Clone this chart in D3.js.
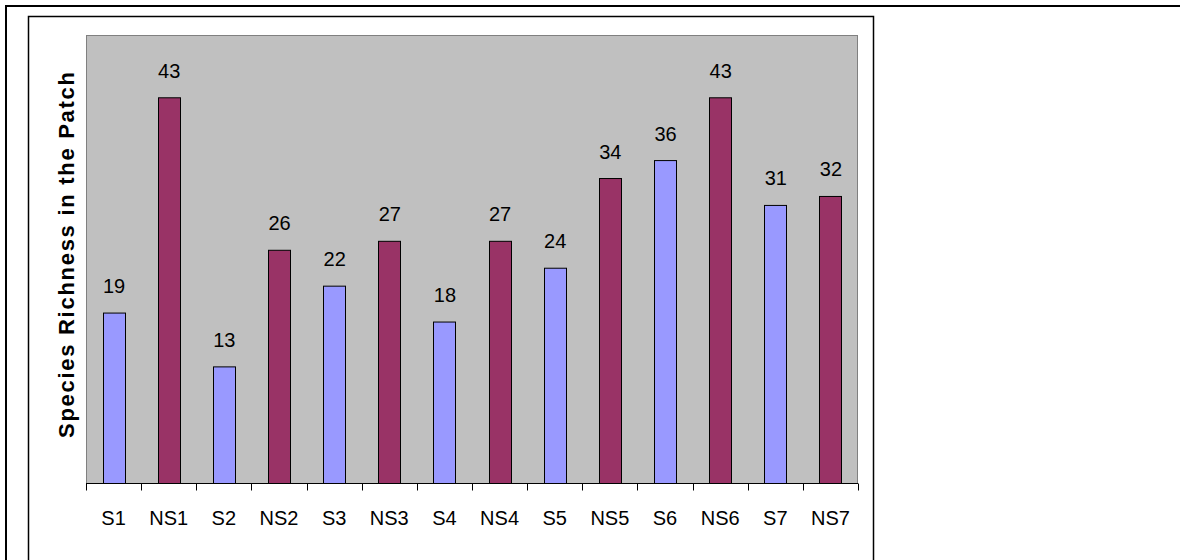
<!DOCTYPE html>
<html>
<head>
<meta charset="utf-8">
<script src="https://cdn.jsdelivr.net/npm/d3@7/dist/d3.min.js"></script>
<style>
  html, body { margin: 0; padding: 0; background: #fff; }
  svg { display: block; }
  text { font-family: Arial, "Liberation Sans", sans-serif; fill: #000; }
</style>
</head>
<body>
<svg id="chart" width="1180" height="560"></svg>
<script>
// Sites: S = sacred patch, NS = non-sacred patch
const categories = ["S1", "NS1", "S2", "NS2", "S3", "NS3", "S4", "NS4", "S5", "NS5", "S6", "NS6", "S7", "NS7"];
const richness = [19, 43, 13, 26, 22, 27, 18, 27, 24, 34, 36, 43, 31, 32];
const yMax = 50;
const yTitle = "Species Richness in the Patch";

const svg = d3.select("#chart");

// outer page frame
svg.append("rect")
  .attr("x", 6).attr("y", 6).attr("width", 1200).attr("height", 600)
  .attr("fill", "none").attr("stroke", "#000").attr("stroke-width", 2);

// chart box
svg.append("rect")
  .attr("x", 28.5).attr("y", 16.5).attr("width", 845).attr("height", 600)
  .attr("fill", "#fff").attr("stroke", "#000").attr("stroke-width", 1.5);

const plot = { left: 86, right: 858, top: 35, bottom: 483.5 };

const x = d3.scaleBand()
  .domain(categories)
  .range([plot.left, plot.right])
  .paddingInner(0.6)
  .paddingOuter(0.3);

const y = d3.scaleLinear()
  .domain([0, yMax])
  .range([plot.bottom, plot.top]);

// plot area
svg.append("rect")
  .attr("x", plot.left + 0.5).attr("y", plot.top + 0.5)
  .attr("width", plot.right - plot.left - 1).attr("height", plot.bottom - plot.top - 0.5)
  .attr("fill", "#c0c0c0").attr("stroke", "#808080").attr("stroke-width", 1);

// bars
svg.append("g").selectAll("rect")
  .data(categories)
  .join("rect")
  .attr("x", d => Math.round(x(d)) + 0.5)
  .attr("y", (d, i) => y(richness[i]))
  .attr("width", Math.round(x.bandwidth()))
  .attr("height", (d, i) => y(0) - y(richness[i]))
  .attr("fill", (d, i) => i % 2 === 0 ? "#9999ff" : "#993366")
  .attr("stroke", "#000").attr("stroke-width", 1);

// value labels
svg.append("g").selectAll("text")
  .data(categories)
  .join("text")
  .attr("x", d => x(d) + x.bandwidth() / 2 + 0.5)
  .attr("y", (d, i) => y(richness[i]) - 20)
  .attr("text-anchor", "middle")
  .style("font-size", "20px")
  .text((d, i) => richness[i]);

// x axis with ticks at category boundaries
const boundaries = d3.range(categories.length + 1).map(i => plot.left + i * (plot.right - plot.left) / categories.length);
const axis = svg.append("g");
axis.append("line")
  .attr("x1", plot.left).attr("x2", plot.right)
  .attr("y1", plot.bottom).attr("y2", plot.bottom)
  .attr("stroke", "#000").attr("stroke-width", 1);
axis.selectAll("line.tick")
  .data(boundaries)
  .join("line")
  .attr("class", "tick")
  .attr("x1", d => Math.round(d) + 0.5).attr("x2", d => Math.round(d) + 0.5)
  .attr("y1", plot.bottom).attr("y2", plot.bottom + 7)
  .attr("stroke", "#000").attr("stroke-width", 1);
axis.selectAll("text")
  .data(categories)
  .join("text")
  .attr("x", d => x(d) + x.bandwidth() / 2)
  .attr("y", 525)
  .attr("text-anchor", "middle")
  .style("font-size", "20px")
  .text(d => d);

// y axis title
svg.append("text")
  .attr("transform", "translate(74,255) rotate(-90)")
  .attr("text-anchor", "middle")
  .attr("textLength", 366)
  .attr("lengthAdjust", "spacing")
  .style("font-size", "22px")
  .style("font-weight", "bold")
  .text(yTitle);
</script>
</body>
</html>
